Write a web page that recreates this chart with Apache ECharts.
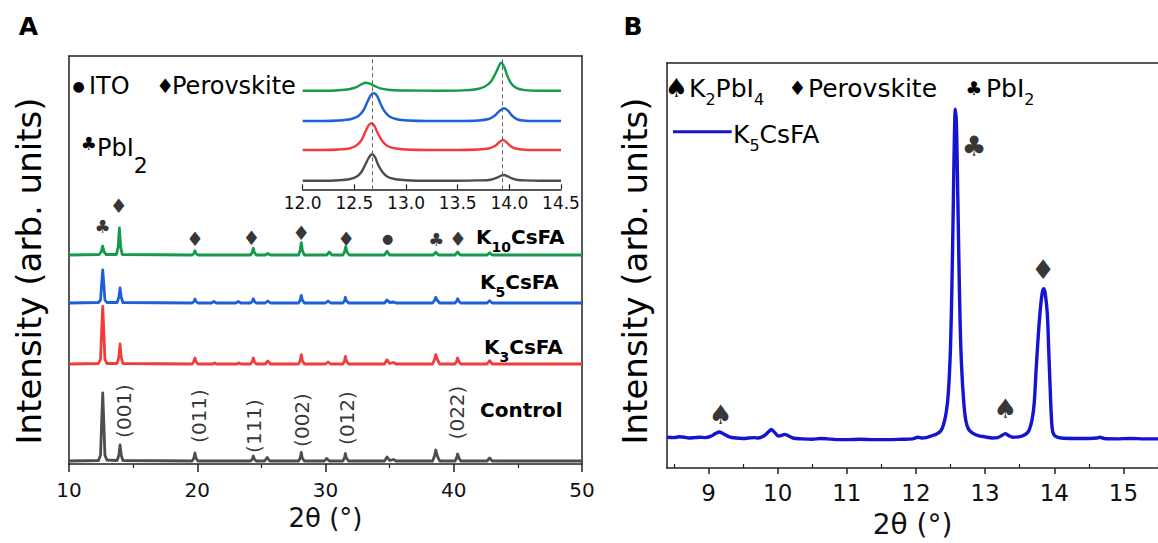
<!DOCTYPE html>
<html>
<head>
<meta charset="utf-8">
<script src="https://cdn.jsdelivr.net/npm/echarts@6/dist/echarts.min.js"></script>
<style>
  html, body { margin: 0; padding: 0; background: #fff; }
  #chart { width: 1158px; height: 543px; }
</style>
</head>
<body>
<div id="chart"></div>
<script>
// ---------- Panel A: full-range XRD patterns (2θ, intensity above own baseline) ----------
const controlPattern = [
  [10, 0], [12.3, 0.5], [12.46, 6], [12.55, 40], [12.63, 68], [12.71, 40], [12.80, 6], [12.95, 1],
  [13.75, 0.5], [13.89, 6], [13.98, 16], [14.07, 6], [14.2, 0.5],
  [19.6, 0], [19.74, 3], [19.82, 8], [19.9, 3], [20.05, 0],
  [24.15, 0], [24.3, 2], [24.37, 5], [24.45, 2], [24.6, 0],
  [25.25, 0], [25.45, 3.5], [25.65, 0],
  [27.9, 0], [28.03, 3], [28.11, 8.5], [28.19, 3], [28.35, 0],
  [29.9, 0], [30.1, 2.5], [30.3, 0],
  [31.35, 0], [31.48, 3], [31.55, 7.5], [31.63, 3], [31.8, 0],
  [34.6, 0], [34.8, 4], [35.0, 0.5], [35.3, 1.5], [35.5, 0],
  [38.35, 0], [38.5, 5], [38.6, 11], [38.72, 5], [38.9, 0],
  [40.1, 0], [40.22, 3], [40.3, 7], [40.4, 3], [40.55, 0],
  [42.6, 0], [42.8, 3], [43.0, 0], [50, 0]
];
const k3Pattern = [
  [10, 0], [12.3, 0.5], [12.46, 5], [12.55, 34], [12.63, 57.5], [12.71, 34], [12.80, 5], [12.95, 0.5],
  [13.75, 0.5], [13.89, 7], [13.98, 20], [14.07, 7], [14.2, 0.5],
  [19.6, 0], [19.74, 2.5], [19.82, 6], [19.9, 2.5], [20.05, 0],
  [21.2, 0], [21.35, 1], [21.5, 0], [23.1, 0], [23.25, 1], [23.4, 0],
  [24.15, 0], [24.3, 2.5], [24.37, 6], [24.45, 2.5], [24.6, 0],
  [25.3, 0], [25.5, 3], [25.7, 0],
  [27.9, 0], [28.03, 3.5], [28.11, 9.3], [28.19, 3.5], [28.35, 0],
  [30.0, 0], [30.2, 2], [30.4, 0],
  [31.35, 0], [31.48, 3], [31.55, 7.6], [31.63, 3], [31.8, 0],
  [34.6, 0], [34.8, 4.3], [35.0, 0.5], [35.3, 1.5], [35.5, 0],
  [38.35, 0], [38.5, 4.5], [38.6, 9.3], [38.72, 4.5], [38.9, 0],
  [40.1, 0], [40.22, 2.5], [40.3, 6], [40.4, 2.5], [40.55, 0],
  [42.6, 0], [42.8, 3.3], [43.0, 0], [50, 0]
];
const k5Pattern = [
  [10, 0], [12.3, 0.5], [12.46, 3], [12.55, 20], [12.63, 33], [12.71, 20], [12.80, 3], [12.95, 0.5],
  [13.75, 0.5], [13.89, 6], [13.98, 15], [14.07, 6], [14.2, 0.5],
  [19.6, 0], [19.74, 1.5], [19.82, 4], [19.9, 1.5], [20.05, 0],
  [21.1, 0], [21.3, 1.5], [21.5, 0], [23.0, 0], [23.2, 1.5], [23.4, 0],
  [24.15, 0], [24.3, 1.8], [24.37, 4.3], [24.45, 1.8], [24.6, 0],
  [25.3, 0], [25.5, 2], [25.7, 0],
  [27.9, 0], [28.03, 3], [28.11, 7.7], [28.19, 3], [28.35, 0],
  [30.0, 0], [30.2, 2], [30.4, 0],
  [31.35, 0], [31.48, 2.2], [31.55, 5.7], [31.63, 2.2], [31.8, 0],
  [34.6, 0], [34.8, 3], [35.0, 0.5], [35.3, 1], [35.5, 0],
  [38.35, 0], [38.5, 2.5], [38.6, 5.7], [38.72, 2.5], [38.9, 0],
  [40.1, 0], [40.22, 1.8], [40.3, 4.3], [40.4, 1.8], [40.55, 0],
  [42.6, 0], [42.8, 2.3], [43.0, 0], [50, 0]
];
const k10Pattern = [
  [10, 0], [12.35, 0.5], [12.5, 3], [12.62, 9], [12.74, 3], [12.9, 0.5],
  [13.7, 0.5], [13.83, 8], [13.93, 27], [14.03, 8], [14.15, 0.5],
  [19.6, 0], [19.74, 1.5], [19.82, 4.3], [19.9, 1.5], [20.05, 0],
  [24.15, 0], [24.28, 2.5], [24.37, 6.7], [24.46, 2.5], [24.6, 0],
  [25.3, 0], [25.5, 1.5], [25.7, 0],
  [27.9, 0], [28.02, 4.5], [28.11, 12.3], [28.2, 4.5], [28.35, 0],
  [30.1, 0], [30.3, 3], [30.5, 0],
  [31.35, 0], [31.48, 3], [31.58, 8.3], [31.68, 3], [31.85, 0],
  [34.6, 0], [34.8, 3.7], [35.0, 0],
  [38.4, 0], [38.6, 2.7], [38.8, 0],
  [40.1, 0], [40.3, 3], [40.5, 0],
  [42.6, 0], [42.8, 2.3], [43.0, 0], [50, 0]
];
// vertical stacking of the four patterns
const stackOffsets = { control: 3, k3: 100, k5: 161, k10: 209 };

// ---------- Panel A inset: 12.0–14.5° region ----------
const insetControl = [
  [12.0, 0], [12.2, 0], [12.35, 0.5], [12.45, 1.5], [12.52, 4], [12.57, 9], [12.61, 17], [12.64, 23],
  [12.67, 26.4], [12.70, 23.5], [12.73, 16], [12.77, 9], [12.82, 4], [12.9, 1.5], [13.0, 0.5], [13.2, 0],
  [13.5, 0], [13.7, 0.3], [13.82, 1], [13.88, 3], [13.92, 5], [13.95, 5.7], [13.98, 4.5], [14.02, 2.5],
  [14.07, 1], [14.15, 0.3], [14.3, 0], [14.5, 0]
];
const insetK3 = [
  [12.0, 0], [12.2, 0], [12.35, 0.5], [12.45, 1.5], [12.52, 4.5], [12.57, 10], [12.61, 19], [12.64, 25],
  [12.67, 26.7], [12.70, 23], [12.73, 16], [12.77, 9], [12.82, 4], [12.9, 1.5], [13.0, 0.5], [13.2, 0],
  [13.5, 0], [13.7, 0.5], [13.8, 1.5], [13.86, 4], [13.91, 8.5], [13.94, 10], [13.97, 8], [14.01, 4],
  [14.06, 1.5], [14.15, 0.3], [14.3, 0], [14.5, 0]
];
const insetK5 = [
  [12.0, 0], [12.2, 0], [12.35, 0.5], [12.47, 2], [12.54, 5], [12.59, 11], [12.63, 20], [12.66, 26],
  [12.69, 27.7], [12.72, 25], [12.75, 18], [12.79, 10], [12.84, 4.5], [12.92, 1.5], [13.02, 0.5], [13.2, 0],
  [13.5, 0], [13.7, 0.5], [13.8, 2], [13.86, 5.5], [13.91, 10.5], [13.95, 12.7], [13.99, 10], [14.03, 5],
  [14.08, 1.5], [14.16, 0.3], [14.3, 0], [14.5, 0]
];
const insetK10 = [
  [12.0, 0], [12.2, 0], [12.35, 0.5], [12.45, 1.5], [12.52, 3.5], [12.57, 6.5], [12.61, 8], [12.65, 7],
  [12.70, 4.5], [12.76, 2], [12.85, 0.7], [13.0, 0.2], [13.3, 0], [13.55, 0.3], [13.68, 1.5], [13.76, 4],
  [13.82, 9], [13.87, 18], [13.9, 25], [13.92, 28], [13.95, 24], [13.98, 15], [14.02, 7], [14.07, 2.5],
  [14.15, 0.6], [14.3, 0], [14.5, 0]
];
const insetOffsets = { control: 8.6, k3: 39.3, k5: 68.3, k10: 98.6 };
const insetGuides = [12.67, 13.93];

// phase markers above the K10CsFA pattern: [2θ, height, symbol]
const phaseMarksA = [
  [12.62, 238, '♣'], [13.87, 258, '♦'], [19.82, 225, '♦'], [24.22, 226, '♦'], [28.1, 231, '♦'],
  [31.62, 225, '♦'], [34.85, 226, '●'], [38.64, 225, '♣'], [40.33, 225, '♦']
];
// reflection indices over the control pattern: [2θ, height, label]
const millerLabels = [
  [14.32, 53, '(001)'], [20.14, 48, '(011)'], [24.40, 38, '(111)'],
  [28.19, 44, '(002)'], [31.68, 46, '(012)'], [40.28, 51.5, '(022)']
];

// ---------- Panel B: K5CsFA low-angle scan ----------
const k5FineScan = [
  [8.40, 76], [8.50, 75], [8.58, 77], [8.65, 76], [8.72, 74], [8.80, 75], [8.88, 76], [8.95, 75],
  [9.03, 78], [9.10, 85], [9.16, 89], [9.22, 84], [9.30, 77], [9.40, 74], [9.50, 73], [9.58, 74],
  [9.66, 75], [9.72, 74], [9.80, 79], [9.86, 88], [9.91, 95], [9.96, 87], [10.01, 79], [10.05, 80],
  [10.10, 83], [10.15, 80], [10.22, 74], [10.35, 72], [10.50, 71], [10.62, 73], [10.72, 72], [10.85, 70],
  [11.00, 70], [11.20, 71], [11.40, 70], [11.60, 70], [11.80, 71], [11.95, 72], [12.03, 76], [12.08, 74],
  [12.15, 75], [12.22, 79], [12.30, 84], [12.36, 92], [12.40, 108], [12.44, 140], [12.47, 190], [12.50, 300],
  [12.52, 450], [12.54, 650], [12.555, 810], [12.57, 886], [12.585, 850], [12.60, 720], [12.62, 520],
  [12.64, 350], [12.66, 250], [12.69, 165], [12.72, 118], [12.76, 96], [12.82, 86], [12.90, 80], [13.00, 77],
  [13.10, 74], [13.18, 75], [13.24, 80], [13.29, 85], [13.34, 80], [13.40, 76], [13.48, 77], [13.55, 80],
  [13.60, 85], [13.64, 95], [13.68, 120], [13.71, 160], [13.74, 250], [13.77, 330], [13.80, 395], [13.83, 436],
  [13.85, 443], [13.87, 430], [13.90, 380], [13.92, 290], [13.94, 200], [13.96, 120], [13.98, 88], [14.02, 78],
  [14.10, 74], [14.30, 73], [14.50, 73], [14.62, 74], [14.66, 76], [14.72, 73], [14.90, 72], [15.10, 73],
  [15.30, 72], [15.50, 72]
];
const phaseMarksB = [[12.84, 793, '♣'], [13.84, 491, '♦'], [9.17, 133, '♠'], [13.29, 147, '♠']];
const panelBTicks = [9, 10, 11, 12, 13, 14, 15];
const panelBMinorTicks = [8.5, 9.5, 10.5, 11.5, 12.5, 13.5, 14.5, 15.5];

// ---------- styling ----------
const FONT = 'DejaVu Sans';
const INK = '#111';
const FRAME = '#222';
const COLORS = { control: '#4d4d4d', k3: '#f23b3b', k5: '#1d5fd8', k10: '#15994b', fine: '#1414d2' };

const shift = (pts, dy) => pts.map(([x, y]) => [x, y + dy]);

function lineSeries(name, data, color, axis, width, smooth) {
  return {
    type: 'line', name, data, xAxisIndex: axis, yAxisIndex: axis,
    showSymbol: false, smooth: smooth || false, silent: true, animation: false,
    lineStyle: { color, width, join: 'round' }, itemStyle: { color }
  };
}

function markerSeries(points, xi, yi, sizes) {
  return {
    type: 'scatter', xAxisIndex: xi, yAxisIndex: yi, symbolSize: 1, silent: true, animation: false,
    itemStyle: { color: 'rgba(0,0,0,0)' },
    data: points.map(p => ({
      value: [p[0], p[1]],
      name: p[2],
      label: { fontSize: sizes[p[2]] }
    })),
    label: { show: true, position: 'inside', color: '#000', fontFamily: FONT, formatter: p => p.name }
  };
}

// frame edge: an axis that only draws its line
const frameAxis = (gridIndex, position, min, max) => ({
  gridIndex, type: 'value', position, min, max,
  axisLine: { show: true, onZero: false, lineStyle: { color: FRAME, width: 1.5 } },
  axisTick: { show: false }, axisLabel: { show: false }, splitLine: { show: false }
});

const txt = (x, y, text, size, extra) => Object.assign({
  type: 'text', x, y, silent: true,
  style: Object.assign({
    text, fontSize: size, fontFamily: FONT, fill: '#000',
    align: 'left', textAlign: 'left', verticalAlign: 'middle', textVerticalAlign: 'middle'
  }, (extra && extra.style) || {})
}, extra ? { rotation: extra.rotation || 0 } : {});

function subText(x, y, tokens, size, subSize, lh, bold) {
  const w = bold ? 'bold' : 'normal';
  return {
    type: 'text', x, y, silent: true,
    style: {
      text: tokens, fontFamily: FONT, fontSize: size, fontWeight: w, fill: '#000',
      align: 'left', textAlign: 'left', verticalAlign: 'middle', textVerticalAlign: 'middle',
      rich: {
        m: { fontFamily: FONT, fontSize: size, fontWeight: w, lineHeight: lh, fill: '#000', verticalAlign: 'middle' },
        s: { fontFamily: FONT, fontSize: subSize, fontWeight: w, lineHeight: subSize, fill: '#000', verticalAlign: 'bottom' }
      }
    }
  };
}

const chart = echarts.init(document.getElementById('chart'), null, { renderer: 'svg' });

chart.setOption({
  animation: false,
  backgroundColor: '#fff',
  textStyle: { fontFamily: FONT },
  grid: [
    { left: 69, top: 56, width: 513, height: 408 },
    { left: 302.7, top: 56, width: 258.3, height: 133.3 },
    { left: 667, top: 63, width: 510, height: 405 }
  ],
  xAxis: [
    {
      gridIndex: 0, type: 'value', min: 10, max: 50, interval: 10,
      name: '2θ (°)', nameLocation: 'middle', nameGap: 40,
      nameTextStyle: { fontSize: 26, color: INK, fontFamily: FONT },
      axisLine: { onZero: false, lineStyle: { color: FRAME, width: 1.5 } },
      axisTick: { length: 8, lineStyle: { color: FRAME, width: 1.5 } },
      minorTick: { show: true, splitNumber: 2, length: 4, lineStyle: { color: FRAME, width: 1.2 } },
      axisLabel: { fontSize: 20, color: INK, margin: 16, fontFamily: FONT },
      splitLine: { show: false }
    },
    {
      gridIndex: 1, type: 'value', min: 12, max: 14.5, interval: 0.5,
      axisLine: { onZero: false, lineStyle: { color: FRAME, width: 1.5 } },
      axisTick: { inside: true, length: 5, lineStyle: { color: FRAME, width: 1.2 } },
      axisLabel: { fontSize: 17, color: INK, margin: 5, fontFamily: FONT, formatter: v => v.toFixed(1) },
      splitLine: { show: false }
    },
    {
      gridIndex: 2, type: 'value', min: 8.4, max: 15.5,
      name: '2θ (°)', nameLocation: 'middle', nameGap: 42,
      nameTextStyle: { fontSize: 28, color: INK, fontFamily: FONT },
      axisLine: { onZero: false, lineStyle: { color: FRAME, width: 1.5 } },
      axisTick: { length: 6, customValues: panelBTicks, lineStyle: { color: FRAME, width: 1.5 } },
      axisLabel: { fontSize: 23, color: INK, margin: 13, fontFamily: FONT, customValues: panelBTicks },
      splitLine: { show: false }
    },
    {
      gridIndex: 2, type: 'value', min: 8.4, max: 15.5,
      axisLine: { show: false },
      axisTick: { length: 4, customValues: panelBMinorTicks, lineStyle: { color: FRAME, width: 1.2 } },
      axisLabel: { show: false },
      splitLine: { show: false }
    },
    frameAxis(0, 'top', 10, 50),
    frameAxis(2, 'top', 8.4, 15.5)
  ],
  yAxis: [
    frameAxis(0, 'left', 0, 408),
    { gridIndex: 1, type: 'value', min: 0, max: 133.3, show: false },
    frameAxis(2, 'left', 0, 1000),
    frameAxis(0, 'right', 0, 408)
  ],
  series: [
    lineSeries('Control', shift(controlPattern, stackOffsets.control), COLORS.control, 0, 2.8),
    lineSeries('K3CsFA', shift(k3Pattern, stackOffsets.k3), COLORS.k3, 0, 2.8),
    lineSeries('K5CsFA', shift(k5Pattern, stackOffsets.k5), COLORS.k5, 0, 2.8),
    lineSeries('K10CsFA', shift(k10Pattern, stackOffsets.k10), COLORS.k10, 0, 2.8),

    Object.assign(lineSeries('Control inset', shift(insetControl, insetOffsets.control), COLORS.control, 1, 2.4, 0.3), {
      markLine: {
        silent: true, symbol: 'none', animation: false, label: { show: false },
        lineStyle: { type: [4, 3], color: '#666', width: 1 },
        data: insetGuides.map(v => ({ xAxis: v }))
      }
    }),
    lineSeries('K3CsFA inset', shift(insetK3, insetOffsets.k3), COLORS.k3, 1, 2.4, 0.3),
    lineSeries('K5CsFA inset', shift(insetK5, insetOffsets.k5), COLORS.k5, 1, 2.4, 0.3),
    lineSeries('K10CsFA inset', shift(insetK10, insetOffsets.k10), COLORS.k10, 1, 2.4, 0.3),

    markerSeries(phaseMarksA, 0, 0, { '♦': 20, '♣': 18, '●': 13 }),
    {
      type: 'scatter', xAxisIndex: 0, yAxisIndex: 0, symbolSize: 1, silent: true, animation: false,
      itemStyle: { color: 'rgba(0,0,0,0)' },
      data: millerLabels.map(m => ({ value: [m[0], m[1]], name: m[2] })),
      label: { show: true, position: 'inside', rotate: 90, formatter: p => p.name, fontSize: 20, color: '#000', fontFamily: FONT }
    },

    lineSeries('K5CsFA scan', k5FineScan, COLORS.fine, 2, 3.4, 0.3),
    markerSeries(phaseMarksB, 2, 2, { '♣': 28, '♦': 27, '♠': 27 })
  ],
  graphic: [
    txt(28.5, 26, 'A', 25, { style: { fontWeight: 'bold', align: 'center', textAlign: 'center' } }),
    txt(633, 26, 'B', 25, { style: { fontWeight: 'bold', align: 'center', textAlign: 'center' } }),
    txt(29, 271, 'Intensity (arb. units)', 34, { rotation: Math.PI / 2, style: { align: 'center', textAlign: 'center' } }),
    txt(635, 271, 'Intensity (arb. units)', 34, { rotation: Math.PI / 2, style: { align: 'center', textAlign: 'center' } }),

    // panel A key
    txt(78.5, 86, '●', 14, { style: { align: 'center', textAlign: 'center' } }),
    txt(89, 86, 'ITO', 24),
    txt(165.3, 86, '♦', 20, { style: { align: 'center', textAlign: 'center' } }),
    txt(172, 86, 'Perovskite', 24),
    txt(88.8, 143, '♣', 18, { style: { align: 'center', textAlign: 'center' } }),
    subText(97, 148, '{m|PbI}{s|2}', 24, 22, 56, false),

    // pattern names
    subText(476, 237, '{m|K}{s|10}{m|CsFA}', 20, 14, 34, true),
    subText(480, 282, '{m|K}{s|5}{m|CsFA}', 20, 14, 34, true),
    subText(484, 347, '{m|K}{s|3}{m|CsFA}', 20, 14, 34, true),
    subText(480, 410, '{m|Control}', 20, 14, 20, true),

    // panel B key
    txt(676.5, 88, '♠', 26, { style: { align: 'center', textAlign: 'center' } }),
    subText(689, 88, '{m|K}{s|2}{m|PbI}{s|4}', 25, 16, 38, false),
    txt(797.5, 88, '♦', 20, { style: { align: 'center', textAlign: 'center' } }),
    txt(808, 88, 'Perovskite', 25),
    txt(973.7, 88, '♣', 19, { style: { align: 'center', textAlign: 'center' } }),
    subText(986, 88, '{m|PbI}{s|2}', 25, 16, 38, false),
    {
      type: 'line', silent: true,
      shape: { x1: 673, y1: 131.7, x2: 731.7, y2: 131.7 },
      style: { stroke: COLORS.fine, lineWidth: 3 }
    },
    subText(733, 134, '{m|K}{s|5}{m|CsFA}', 25, 16, 38, false)
  ]
});
</script>
</body>
</html>
